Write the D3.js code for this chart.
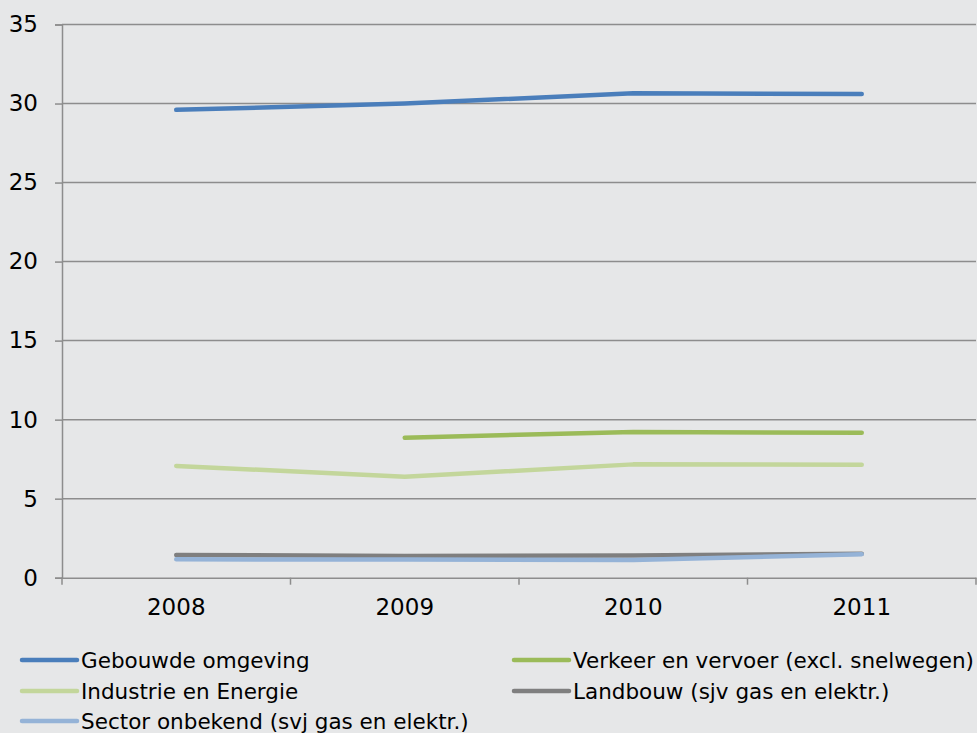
<!DOCTYPE html>
<html>
<head>
<meta charset="utf-8">
<script src="https://cdn.jsdelivr.net/npm/d3@7"></script>
<style>
  html, body { margin: 0; padding: 0; background: #e6e7e8; }
  svg { display: block; }
  text { font-family: "DejaVu Sans", Verdana, sans-serif; fill: #000; }
</style>
</head>
<body>
<svg id="chart" width="977" height="733"></svg>
<script>
const years = ["2008", "2009", "2010", "2011"];
const yTicks = [0, 5, 10, 15, 20, 25, 30, 35];

const seriesNames = [
  "Gebouwde omgeving",
  "Verkeer en vervoer (excl. snelwegen)",
  "Industrie en Energie",
  "Landbouw (sjv gas en elektr.)",
  "Sector onbekend (svj gas en elektr.)"
];
const seriesColors = ["#4a7ebb", "#9bbb59", "#c3d69b", "#7f7f7f", "#95b3d7"];

const gebouwde = [29.6, 30.0, 30.65, 30.6];
const verkeer = [null, 8.86, 9.22, 9.17];
const industrie = [7.07, 6.39, 7.17, 7.15];
const landbouw = [1.44, 1.37, 1.41, 1.52];
const onbekend = [1.16, 1.15, 1.12, 1.48];

const seriesValues = [gebouwde, verkeer, industrie, landbouw, onbekend];

(function () {
const svg = d3.select("#chart");
const mLeft = 62, mRight = 976, mTop = 24.5, mBottom = 577.7;

const x = d3.scaleBand().domain(years).range([mLeft, mRight]).padding(0);
const y = d3.scaleLinear().domain([0, 35]).range([mBottom, mTop]);

const gridColor = "#8d8d8d";
const fontFam = "'DejaVu Sans', Verdana, sans-serif";

// gridlines
svg.append("g").selectAll("line").data(yTicks.filter(t => t > 0)).join("line")
  .attr("x1", mLeft).attr("x2", mRight)
  .attr("y1", d => y(d)).attr("y2", d => y(d))
  .attr("stroke", gridColor).attr("stroke-width", 1.5);

// y axis
const yAxis = svg.append("g").attr("transform", `translate(${mLeft},0)`)
  .call(d3.axisLeft(y).tickValues(yTicks).tickSize(7).tickPadding(17).tickFormat(d3.format("d")));
yAxis.select(".domain").attr("stroke", gridColor).attr("stroke-width", 1.5);
yAxis.selectAll(".tick line").attr("stroke", gridColor).attr("stroke-width", 1.5);
yAxis.selectAll(".tick text").attr("font-size", 23).attr("font-family", fontFam).attr("fill", "#000");

// x axis
const xAxis = svg.append("g").attr("transform", `translate(0,${mBottom})`)
  .call(d3.axisBottom(x).tickSize(0).tickPadding(21));
xAxis.select(".domain").attr("stroke", gridColor).attr("stroke-width", 1.5);
xAxis.selectAll(".tick text").attr("font-size", 23).attr("font-family", fontFam).attr("fill", "#000");

// x boundary ticks
const bounds = years.map(d => x(d)).concat([x(years[years.length - 1]) + x.bandwidth()]);
svg.append("g").selectAll("line").data(bounds).join("line")
  .attr("x1", d => d).attr("x2", d => d)
  .attr("y1", mBottom).attr("y2", mBottom + 7)
  .attr("stroke", gridColor).attr("stroke-width", 1.5);

// lines
const line = d3.line()
  .defined(d => d.v !== null)
  .x(d => x(d.year) + x.bandwidth() / 2)
  .y(d => y(d.v));

seriesValues.forEach((vals, i) => {
  const pts = years.map((yr, j) => ({ year: yr, v: vals[j] }));
  svg.append("path")
    .datum(pts)
    .attr("d", line)
    .attr("fill", "none")
    .attr("stroke", seriesColors[i])
    .attr("stroke-width", 4.5)
    .attr("stroke-linecap", "round")
    .attr("stroke-linejoin", "round");
});

// legend
const legendPos = [
  { x: 22, y: 660 }, { x: 514, y: 660 },
  { x: 22, y: 691 }, { x: 514, y: 691 },
  { x: 22, y: 721 }
];
seriesNames.forEach((name, i) => {
  const p = legendPos[i];
  const g = svg.append("g").attr("transform", `translate(${p.x},${p.y})`);
  g.append("line").attr("x1", 0).attr("x2", 55).attr("y1", 0).attr("y2", 0)
    .attr("stroke", seriesColors[i]).attr("stroke-width", 4.5).attr("stroke-linecap", "round");
  g.append("text").attr("x", 59).attr("y", 0).attr("dy", "0.35em")
    .attr("font-family", fontFam)
    .attr("font-size", 21.5).text(name);
});
})();
</script>
</body>
</html>
